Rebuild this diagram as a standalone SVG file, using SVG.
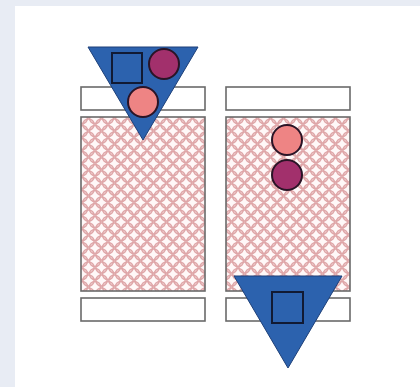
<svg xmlns="http://www.w3.org/2000/svg" width="420" height="387" viewBox="0 0 420 387">
<defs>
<pattern id="hatch" width="13" height="13" patternUnits="userSpaceOnUse" x="82" y="118">
<rect width="13" height="13" fill="#fff8f8"/>
<g fill="none" stroke="#dfa6a8" stroke-width="1.5">
<circle cx="6.5" cy="6.5" r="5.6"/>
<circle cx="0" cy="0" r="5.6"/>
<circle cx="13" cy="0" r="5.6"/>
<circle cx="0" cy="13" r="5.6"/>
<circle cx="13" cy="13" r="5.6"/>
</g>
</pattern>
<style>
.bar{fill:#fff;stroke:#6a6a6a;stroke-width:1.6}
.main{fill:url(#hatch);stroke:#6a6a6a;stroke-width:1.6}
.tri{fill:#2c62ae;stroke:#1d3f78;stroke-width:1}
.sq{fill:#2c62ae;stroke:#111a33;stroke-width:2}
.mag{fill:#a2306c;stroke:#2a1426;stroke-width:2}
.sal{fill:#ee8484;stroke:#2a1426;stroke-width:2}
</style>
</defs>
<rect width="420" height="387" fill="#e8ecf4"/>
<rect x="15" y="6" width="405" height="381" fill="#ffffff"/>
<g id="left-column">
<rect class="bar" x="81" y="87" width="124" height="23"/>
<rect class="main" x="81" y="117" width="124" height="174"/>
<rect class="bar" x="81" y="298" width="124" height="23"/>
</g>
<g id="left-marker">
<polygon class="tri" points="88,47 198,47 143,140"/>
<rect class="sq" x="112" y="53" width="30" height="30"/>
<circle class="mag" cx="164" cy="64" r="15"/>
<circle class="sal" cx="143" cy="102" r="15"/>
</g>
<g id="right-column">
<rect class="bar" x="226" y="87" width="124" height="23"/>
<rect class="main" x="226" y="117" width="124" height="174"/>
<rect class="bar" x="226" y="298" width="124" height="23"/>
<circle class="sal" cx="287" cy="140" r="15"/>
<circle class="mag" cx="287" cy="175" r="15"/>
</g>
<g id="right-marker">
<polygon class="tri" points="234,276 342,276 288,368"/>
<rect class="sq" x="272" y="292" width="31" height="31"/>
</g>
<g id="connectors"></g>
</svg>
